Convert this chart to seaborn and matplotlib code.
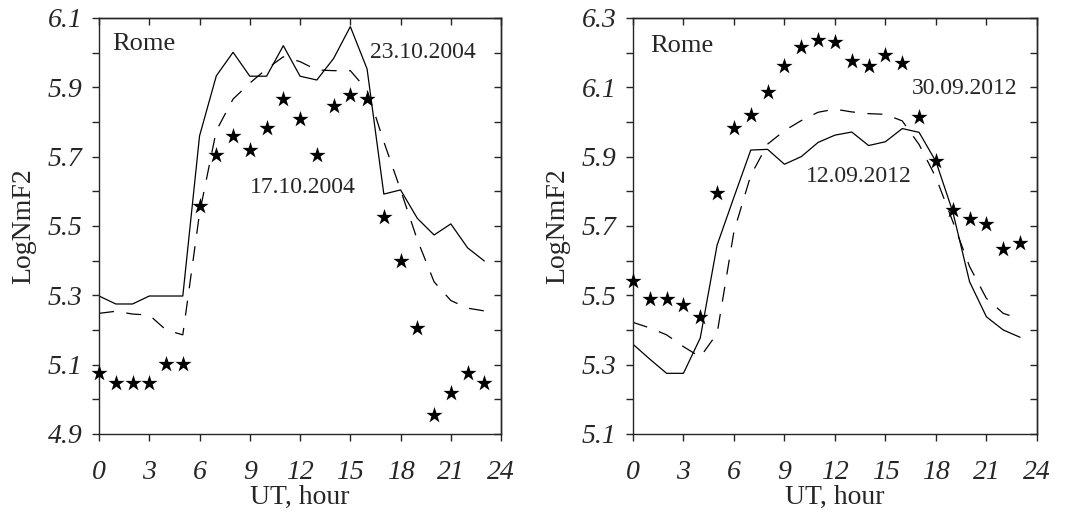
import matplotlib.pyplot as plt
import seaborn as sns
import numpy as np
import pandas as pd

# === Data (hourly LogNmF2, Rome) ===
hours = list(range(24))

# left panel, October 2004
stars_17oct2004 = [5.075, 5.046, 5.046, 5.046, 5.102, 5.102, 5.558, 5.706, 5.760, 5.718,
                   5.784, 5.866, 5.808, 5.706, 5.845, 5.879, 5.866, 5.525, 5.399, 5.205,
                   4.955, 5.017, 5.075, 5.046]
solid_23oct2004 = [5.298, 5.275, 5.275, 5.298, 5.298, 5.298, 5.760, 5.933, 6.001, 5.932,
                   5.932, 6.020, 5.932, 5.921, 5.983, 6.075, 5.953, 5.592, 5.604, 5.522,
                   5.474, 5.506, 5.437, 5.399]
dash_oct2004 = [5.248, 5.254, 5.246, 5.243, 5.200, 5.186, 5.537, 5.775, 5.866, 5.912,
                5.953, 5.988, 5.974, 5.950, 5.948, 5.948, 5.892, 5.743, 5.604, 5.460,
                5.339, 5.285, 5.263, 5.255]

# right panel, September 2012
stars_30sep2012 = [5.541, 5.489, 5.489, 5.472, 5.437, 5.794, 5.982, 6.020, 6.085, 6.160,
                   6.215, 6.237, 6.230, 6.176, 6.162, 6.193, 6.169, 6.013, 5.888, 5.746,
                   5.720, 5.706, 5.634, 5.650]
solid_12sep2012 = [5.359, 5.316, 5.275, 5.275, 5.377, 5.645, 5.783, 5.919, 5.921, 5.878,
                   5.900, 5.941, 5.962, 5.971, 5.932, 5.943, 5.981, 5.970, 5.886, 5.741,
                   5.539, 5.438, 5.400, 5.379]
dash_sep2012 = [5.422, 5.406, 5.386, 5.352, 5.322, 5.390, 5.684, 5.846, 5.936, 5.975,
                6.004, 6.028, 6.037, 6.029, 6.024, 6.022, 6.003, 5.935, 5.840, 5.713,
                5.583, 5.491, 5.448, 5.432]

x_ticks = [0, 3, 6, 9, 12, 15, 18, 21, 24]

sns.set_style("ticks")
plt.rcParams['font.family'] = ['Liberation Serif', 'DejaVu Serif']
plt.rcParams['axes.linewidth'] = 1.0

fig = plt.figure(figsize=(10.79, 5.13), dpi=100)
ax1 = fig.add_axes([0.0918, 0.154, 0.3726, 0.811])
ax2 = fig.add_axes([0.5866, 0.154, 0.3744, 0.811])


def draw_panel(ax, stars, solid, dash, y0, y1, notes):
    lines = pd.DataFrame({
        "UT": hours * 2,
        "val": solid + dash,
        "kind": ["solid"] * 24 + ["dash"] * 24,
    })
    sns.lineplot(data=lines, x="UT", y="val", style="kind", ax=ax,
                 color="black", linewidth=0.9, legend=False,
                 dashes={"solid": "", "dash": (12, 10)})
    pts = pd.DataFrame({"UT": hours, "val": stars})
    sns.scatterplot(data=pts, x="UT", y="val", ax=ax, marker="*", s=150,
                    color="black", edgecolor="black", linewidth=0, zorder=3,
                    clip_on=False)

    ax.set_xlim(0, 24)
    ax.set_ylim(y0, y1)
    yt = np.round(np.arange(y0, y1 + 0.001, 0.1), 1)
    ax.set_xticks(x_ticks)
    ax.set_xticklabels([str(t) for t in x_ticks], fontstyle="italic", fontsize=20)
    ax.set_yticks(yt)
    ax.set_yticklabels([f"{v:.1f}" if i % 2 == 0 else "" for i, v in enumerate(yt)],
                       fontstyle="italic", fontsize=20)
    ax.tick_params(axis="x", direction="out", length=5, width=1, pad=14)
    ax.tick_params(axis="y", direction="out", length=5, width=1, pad=7)

    # inward ticks on top and right
    top = ax.secondary_xaxis("top")
    top.set_xticks(x_ticks)
    top.set_xticklabels([])
    top.tick_params(direction="in", length=5, width=1)
    right = ax.secondary_yaxis("right")
    right.set_yticks(yt)
    right.set_yticklabels([])
    right.tick_params(direction="in", length=5, width=1)

    ax.set_xlabel("UT, hour", fontsize=20, labelpad=0)
    ax.set_ylabel("LogNmF2", fontsize=20, labelpad=8)

    for x, y, txt, fs in notes:
        ax.text(x, y, txt, fontsize=fs, va="center", ha="left")


draw_panel(ax1, stars_17oct2004, solid_23oct2004, dash_oct2004, 4.9, 6.1,
           [(0.8, 6.025, "Rome", 19), (16.2, 6.0, "23.10.2004", 17),
            (9.0, 5.612, "17.10.2004", 17)])
draw_panel(ax2, stars_30sep2012, solid_12sep2012, dash_sep2012, 5.1, 6.3,
           [(1.0, 6.22, "Rome", 19), (16.6, 6.097, "30.09.2012", 17),
            (10.3, 5.842, "12.09.2012", 17)])

fig.savefig("out.png", dpi=100)
